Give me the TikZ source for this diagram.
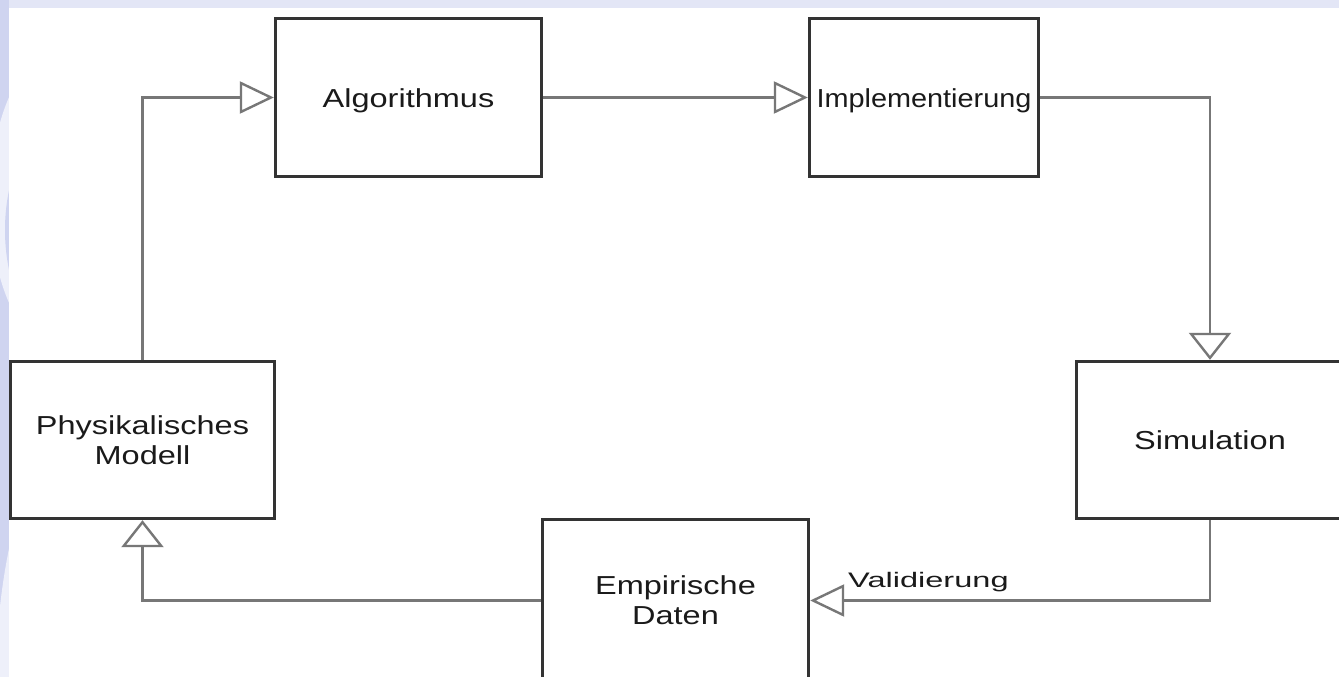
\documentclass[tikz,border=0pt]{standalone}
\usepackage{fontspec}
\setmainfont{Liberation Sans}
\newfontfamily\boxfont[FakeStretch=1.25]{Liberation Sans}
\newfontfamily\implfont[FakeStretch=1.11]{Liberation Sans}
\newfontfamily\valfont[FakeStretch=1.55]{Liberation Sans}
\usetikzlibrary{arrows.meta}
\definecolor{bgA}{HTML}{E3E6F6}
\definecolor{bgB}{HTML}{CFD4F0}
\definecolor{bgC}{HTML}{EEF0FA}
\definecolor{boxline}{HTML}{333333}
\definecolor{connc}{HTML}{777777}
\definecolor{txt}{HTML}{1A1A1A}
\begin{document}
\begin{tikzpicture}[x=1pt,y=-1pt,
  box/.style={draw=boxline, line width=3.4pt, fill=white, inner sep=0pt, align=center,
    font=\boxfont\fontsize{26}{30}\selectfont, text=txt},
  single/.style={text height=19pt, text depth=0pt},
  conn/.style={draw=connc, line width=2.4pt},
  harrow/.style={-{Triangle[open,length=34pt,width=32pt]}},
  varrow/.style={-{Triangle[open,length=27pt,width=42pt]}},
  lbl/.style={inner sep=0pt, font=\valfont\fontsize{21}{24}\selectfont, text=txt},
]
\useasboundingbox (0,0) rectangle (1339,677);
\clip (0,0) rectangle (1339,677);
% background
\fill[bgA] (0,0) rectangle (1339,677);
\begin{scope}
  \clip (0,0) rectangle (9,677);
  \fill[bgB] (0,0) rectangle (9,677);
  \fill[bgC] (60,200) ellipse (70 and 150);
  \fill[bgB] (90,230) ellipse (85 and 130);
  \fill[bgC] (70,700) ellipse (75 and 260);
  \fill[bgB] (95,760) ellipse (90 and 250);
\end{scope}
\fill[white] (9,8) rectangle (1339,677);

% boxes
\node[box, single, minimum width=266pt, minimum height=158pt] (alg) at (408.5,97.5) {Algorithmus};
\node[box, single, minimum width=229pt, minimum height=158pt, font=\implfont\fontsize{26}{30}\selectfont] (impl) at (924,97.5) {Implementierung};
\node[box, minimum width=264pt, minimum height=157pt] (phys) at (142.5,440) {Physikalisches\\Modell};
\node[box, single, minimum width=267pt, minimum height=157pt] (sim) at (1210,440) {Simulation};
\node[box, minimum width=266pt, minimum height=162pt] (emp) at (675.5,600.5) {Empirische\\Daten};

% connectors
\draw[conn, harrow] (phys.north) |- (alg.west);
\draw[conn, harrow] (alg.east) -- (impl.west);
\draw[conn, varrow] (impl.east) -| (sim.north);
\draw[conn, harrow] (sim.south) |- (emp.east);
\draw[conn, varrow] (emp.west) -| (phys.south);

\node[lbl, anchor=base west] (val) at (848,587) {Validierung};
\end{tikzpicture}
\end{document}
